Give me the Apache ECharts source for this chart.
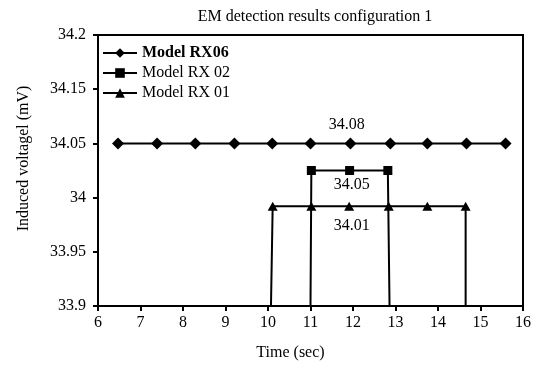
<!DOCTYPE html>
<html>
<head>
<meta charset="utf-8">
<script src="https://cdn.jsdelivr.net/npm/echarts@6/dist/echarts.min.js"></script>
<style>
  html, body { margin: 0; padding: 0; background: #fff; }
  #chart { width: 535px; height: 365px; }
</style>
</head>
<body>
<div id="chart"></div>
<script>
var seriesNames = ['Model RX06', 'Model RX 02', 'Model RX 01'];

// Model RX06 readings
var rx06X = [6.47, 7.39, 8.29, 9.21, 10.1, 11.0, 11.94, 12.88, 13.75, 14.67, 15.59];
var rx06Y = [34.05, 34.05, 34.05, 34.05, 34.05, 34.05, 34.05, 34.05, 34.05, 34.05, 34.05];

// Model RX 02 (ends drop to the axis)
var rx02X = [11.0, 11.02, 11.92, 12.82, 12.86];
var rx02Y = [33.9, 34.025, 34.025, 34.025, 33.9];

// Model RX 01 (ends drop to the axis)
var rx01X = [10.07, 10.11, 11.02, 11.91, 12.84, 13.75, 14.65, 14.65];
var rx01Y = [33.9, 33.992, 33.992, 33.992, 33.992, 33.992, 33.992, 33.9];

// value notes written in the plot
var annoX = [11.85, 11.97, 11.97];
var annoY = [34.067, 34.012, 33.974];
var annoText = ['34.08', '34.05', '34.01'];

// tick labels as printed (34.1 is skipped on the original)
var yTicks = [33.9, 33.95, 34, 34.05, 34.1, 34.15];
var yTickLabels = ['33.9', '33.95', '34', '34.05', '34.15', '34.2'];

var font = '"Liberation Serif", "DejaVu Serif", serif';

function toPoints(xs, ys, dropEnds) {
  return xs.map(function (x, i) {
    var p = { value: [x, ys[i]] };
    if (dropEnds && (i === 0 || i === xs.length - 1)) {
      p.symbol = 'none';
    }
    return p;
  });
}

var chart = echarts.init(document.getElementById('chart'));

var option = {
  animation: false,
  backgroundColor: '#fff',
  title: {
    text: 'EM detection results configuration 1',
    left: 310,
    textAlign: 'center',
    top: 4,
    textStyle: { fontFamily: font, fontSize: 16, fontWeight: 'normal', color: '#000' }
  },
  grid: {
    left: 98,
    right: 12,
    top: 35,
    bottom: 59,
    outerBoundsMode: 'none',
    show: true,
    borderColor: '#000',
    borderWidth: 2
  },
  legend: {
    data: seriesNames,
    orient: 'vertical',
    left: 97,
    top: 40,
    itemWidth: 34,
    itemHeight: 12,
    itemGap: 4,
    textStyle: {
      fontFamily: font, fontSize: 16, color: '#000',
      rich: { b: { fontFamily: font, fontSize: 16, fontWeight: 'bold', color: '#000' } }
    },
    formatter: function (name) {
      return name === 'Model RX06' ? '{b|' + name + '}' : name;
    }
  },
  xAxis: {
    type: 'value',
    min: 6,
    max: 16,
    interval: 1,
    name: 'Time (sec)',
    nameLocation: 'middle',
    nameGap: 39,
    nameTextStyle: { fontFamily: font, fontSize: 16, color: '#000', padding: [0, 40, 0, 0] },
    axisLine: { lineStyle: { color: '#000', width: 2 } },
    axisTick: { inside: false, length: 5, lineStyle: { color: '#000', width: 2 } },
    axisLabel: { fontFamily: font, fontSize: 16, color: '#000', margin: 9 },
    splitLine: { show: false }
  },
  yAxis: {
    type: 'value',
    min: 33.9,
    max: 34.15,
    interval: 0.05,
    name: 'Induced voltagel (mV)',
    nameLocation: 'middle',
    nameGap: 66,
    nameTextStyle: { fontFamily: font, fontSize: 16, color: '#000', padding: [0, 0, 0, 24] },
    axisLine: { lineStyle: { color: '#000', width: 2 } },
    axisTick: { inside: false, length: 5, lineStyle: { color: '#000', width: 2 } },
    axisLabel: {
      fontFamily: font, fontSize: 16, color: '#000', margin: 12,
      formatter: function (v) {
        for (var i = 0; i < yTicks.length; i++) {
          if (Math.abs(yTicks[i] - v) < 1e-6) return yTickLabels[i];
        }
        return '';
      }
    },
    splitLine: { show: false }
  },
  series: [
    {
      name: seriesNames[0],
      type: 'line',
      data: toPoints(rx06X, rx06Y, false),
      symbol: 'diamond',
      symbolSize: 12,
      itemStyle: { color: '#000' },
      lineStyle: { color: '#000', width: 2 },
      markPoint: {
        silent: true,
        symbol: 'circle',
        symbolSize: 0,
        label: {
          show: true,
          position: 'inside',
          formatter: '{b}',
          fontFamily: font,
          fontSize: 16,
          color: '#000'
        },
        data: annoX.map(function (x, i) {
          return { coord: [x, annoY[i]], name: annoText[i] };
        })
      }
    },
    {
      name: seriesNames[1],
      type: 'line',
      data: toPoints(rx02X, rx02Y, true),
      symbol: 'rect',
      symbolSize: 9,
      itemStyle: { color: '#000' },
      lineStyle: { color: '#000', width: 2 }
    },
    {
      name: seriesNames[2],
      type: 'line',
      data: toPoints(rx01X, rx01Y, true),
      symbol: 'triangle',
      symbolSize: [10, 9],
      itemStyle: { color: '#000' },
      lineStyle: { color: '#000', width: 2 }
    }
  ]
};

chart.setOption(option);
</script>
</body>
</html>
